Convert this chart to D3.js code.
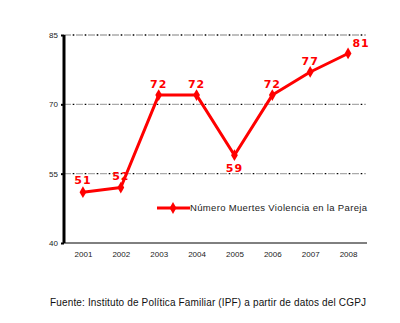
<!DOCTYPE html>
<html><head><meta charset="utf-8">
<script src="https://cdn.jsdelivr.net/npm/d3@7"></script>
<style>body{margin:0;background:#fff;}svg{display:block;}</style>
</head><body>
<svg id="c" width="400" height="323"></svg>
<script>
const years = ["2001","2002","2003","2004","2005","2006","2007","2008"];
const values = [51,52,72,72,59,72,77,81];
const yTicks = [40,55,70,85];
const seriesName = "Número Muertes Violencia en la Pareja";
const source = "Fuente: Instituto de Política Familiar (IPF) a partir de datos del CGPJ";

(function(){
const svg = d3.select("#c");
const pL = 64, pR = 367, pT = 35, pB = 243;
const x = d3.scalePoint().domain(years).range([pL, pR]).padding(0.5);
const y = d3.scaleLinear().domain([40,85]).range([pB, pT]);

// grid lines
const grid = yTicks.filter(t => t > 40);
svg.selectAll(".gg").data(grid).enter().append("line")
  .attr("x1", pL).attr("x2", pR-1).attr("y1", d=>y(d)).attr("y2", d=>y(d))
  .attr("stroke", "#aaa").attr("stroke-width", 1.3).attr("stroke-dasharray", "7,5");
svg.selectAll(".gd").data(grid).enter().append("line")
  .attr("x1", pL).attr("x2", pR-1).attr("y1", d=>y(d)).attr("y2", d=>y(d))
  .attr("stroke", "#000").attr("stroke-width", 1.3).attr("stroke-dasharray", "1.6,10.4").attr("stroke-dashoffset", -8.7);

// x axis line
svg.append("line").attr("x1", pL).attr("x2", pR).attr("y1", pB).attr("y2", pB)
  .attr("stroke", "#000").attr("stroke-width", 1);

// y axis
const yAxis = svg.append("g").attr("transform", `translate(${pL},0)`)
  .call(d3.axisLeft(y).tickValues(yTicks).tickSize(3).tickPadding(3).tickFormat(d3.format("d")));
yAxis.select(".domain").remove();
yAxis.selectAll(".tick line").attr("stroke", "#000").attr("stroke-width", 2);
yAxis.selectAll("text").attr("font-family", "Liberation Sans, Arial, sans-serif").attr("font-size", 8).attr("fill", "#222");
svg.append("line").attr("x1", pL).attr("x2", pL).attr("y1", pT).attr("y2", pB)
  .attr("stroke", "#000").attr("stroke-width", 3);

// x labels
const xAxis = svg.append("g").attr("transform", `translate(0,${pB})`)
  .call(d3.axisBottom(x).tickSize(0).tickPadding(8));
xAxis.select(".domain").remove();
xAxis.selectAll("text").attr("font-family", "Liberation Sans, Arial, sans-serif").attr("font-size", 8).attr("fill", "#222");

// line
const line = d3.line().x((d,i)=>x(years[i])).y(d=>y(d));
svg.append("path").datum(values).attr("d", line).attr("fill","none")
  .attr("stroke","#ff0000").attr("stroke-width",3).attr("stroke-linejoin","round");
const diamond = d3.symbol().type(d3.symbolDiamond).size(40);
svg.selectAll(".m").data(values).enter().append("path")
  .attr("d", diamond).attr("fill","#ff0000")
  .attr("transform",(d,i)=>`translate(${x(years[i])},${y(d)})`);

// labels
const offs = [[0,-8],[0,-8],[0,-7],[0,-7],[0,17],[0,-7],[0,-7],[13,-6]];
svg.selectAll(".l").data(values).enter().append("text")
  .attr("x",(d,i)=>x(years[i])+offs[i][0]).attr("y",(d,i)=>y(d)+offs[i][1])
  .attr("text-anchor","middle").attr("font-family","DejaVu Sans, Verdana, sans-serif")
  .attr("font-weight","bold").attr("font-size",11).attr("fill","#ff0000").attr("letter-spacing",1)
  .text(d=>d);

// legend
const ly = 208;
svg.append("line").attr("x1",157).attr("x2",190).attr("y1",ly).attr("y2",ly)
  .attr("stroke","#ff0000").attr("stroke-width",3);
svg.append("path").attr("d", diamond).attr("fill","#ff0000").attr("transform",`translate(173,${ly})`);
svg.append("text").attr("x",190).attr("y",ly+3).attr("font-family","Liberation Sans, Arial, sans-serif")
  .attr("font-size",9.5).attr("fill","#222").attr("textLength",177).attr("lengthAdjust","spacing").text(seriesName);

// source
svg.append("text").attr("x",50).attr("y",306)
  .attr("font-family","Liberation Sans, Arial, sans-serif").attr("font-size",10).attr("fill","#111")
  .attr("textLength",316).attr("lengthAdjust","spacing").text(source);
})();
</script>
</body></html>
